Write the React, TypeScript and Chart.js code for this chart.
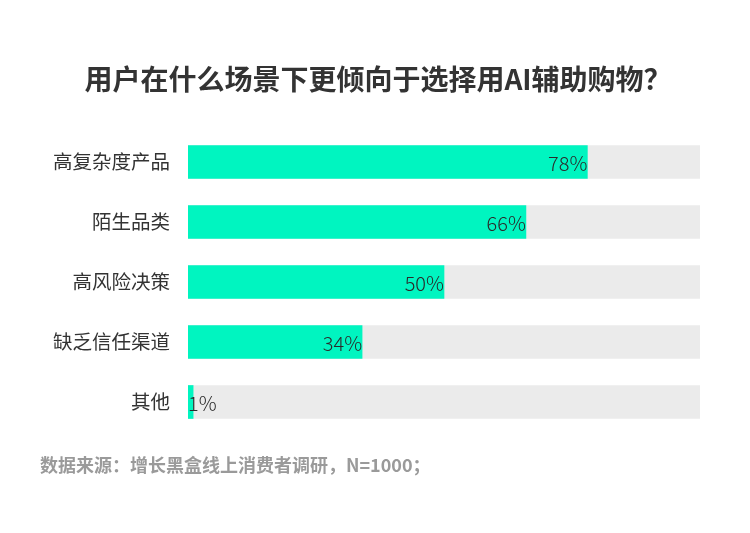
import React, { useEffect, useRef } from 'react';
import { Chart, registerables } from 'chart.js';

Chart.register(...registerables);

const categories = ['高复杂度产品', '陌生品类', '高风险决策', '缺乏信任渠道', '其他'];
const shares = [78, 66, 50, 34, 1];
const trackValues = [100, 100, 100, 100, 100];

const TITLE = '用户在什么场景下更倾向于选择用AI辅助购物？';
const SOURCE = '数据来源：增长黑盒线上消费者调研，N=1000；';
const FONT = '"Noto Sans CJK SC", "Noto Sans", sans-serif';

const textPlugin = {
  id: 'textPlugin',
  afterDatasetsDraw(chart: any) {
    const { ctx } = chart;
    const meta = chart.getDatasetMeta(1);
    ctx.save();
    ctx.font = `300 20px ${FONT}`;
    ctx.fillStyle = '#2a2a2a';
    ctx.textBaseline = 'middle';
    meta.data.forEach((bar: any, i: number) => {
      const label = `${shares[i]}%`;
      const w = ctx.measureText(label).width;
      if (bar.x - bar.base >= w) {
        ctx.textAlign = 'right';
        ctx.fillText(label, bar.x, bar.y + 1);
      } else {
        ctx.textAlign = 'left';
        ctx.fillText(label, bar.base, bar.y + 1);
      }
    });
    // title
    ctx.font = `bold 28px ${FONT}`;
    ctx.fillStyle = '#333333';
    ctx.textAlign = 'center';
    ctx.fillText(TITLE, 378, 79);
    // source note
    ctx.font = `bold 18px ${FONT}`;
    ctx.fillStyle = '#9a9a9a';
    ctx.textAlign = 'left';
    ctx.fillText(SOURCE, 40, 465);
    ctx.restore();
  },
};

const App: React.FC = () => {
  const canvasRef = useRef<HTMLCanvasElement>(null);
  const chartRef = useRef<Chart | null>(null);

  useEffect(() => {
    document.body.style.margin = '0';
    if (!canvasRef.current) return;
    if (chartRef.current) chartRef.current.destroy();
    chartRef.current = new Chart(canvasRef.current, {
      type: 'bar',
      data: {
        labels: categories,
        datasets: [
          {
            label: 'track',
            data: trackValues,
            backgroundColor: '#ebebeb',
            grouped: false,
            order: 2,
            barThickness: 33,
          },
          {
            label: '占比',
            data: shares,
            backgroundColor: '#00f5c0',
            grouped: false,
            order: 1,
            barThickness: 33,
          },
        ],
      },
      options: {
        indexAxis: 'y',
        responsive: false,
        animation: false,
        events: [],
        layout: { padding: { top: 132, bottom: 101, right: 50, left: 0 } },
        plugins: {
          legend: { display: false },
          tooltip: { enabled: false },
          title: { display: false },
        },
        scales: {
          x: { display: false, min: 0, max: 100 },
          y: {
            grid: { display: false },
            border: { display: false },
            afterFit: (scale: any) => {
              scale.width = 188;
            },
            ticks: {
              padding: 10,
              color: '#333333',
              font: { family: FONT, size: 19.5 },
            },
          },
        },
      },
      plugins: [textPlugin],
    });
    return () => {
      if (chartRef.current) {
        chartRef.current.destroy();
        chartRef.current = null;
      }
    };
  }, []);

  return (
    <div style={{ width: 750, height: 533, background: '#ffffff' }}>
      <canvas ref={canvasRef} width={750} height={533} />
    </div>
  );
};

export default App;
